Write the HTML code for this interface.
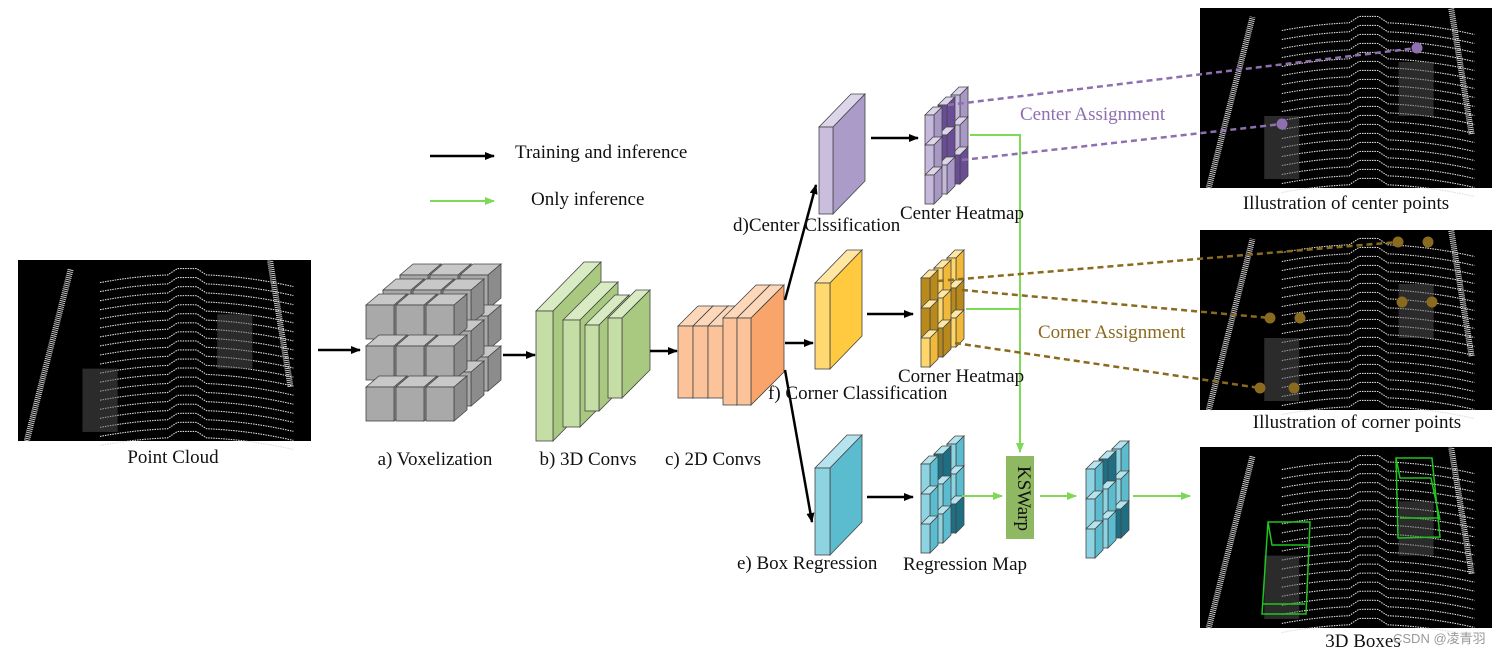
<!DOCTYPE html>
<html><head><meta charset="utf-8"><style>
body{margin:0;background:#fff;}
svg{display:block;}
text{font-family:"Liberation Serif",serif;font-size:19px;fill:#111;}
</style></head><body>
<svg id="s" width="1506" height="655" viewBox="0 0 1506 655" xmlns="http://www.w3.org/2000/svg">
<defs>
<marker id="ab" markerWidth="10" markerHeight="8" refX="9" refY="4" orient="auto" markerUnits="userSpaceOnUse"><path d="M0,0 L10,4 L0,8z" fill="#000"/></marker>
<marker id="ag" markerWidth="10" markerHeight="8" refX="9" refY="4" orient="auto" markerUnits="userSpaceOnUse"><path d="M0,0 L10,4 L0,8z" fill="#7ed957"/></marker>
</defs>
<g id="g"></g>
<text x="515" y="158">Training and inference</text>
<text x="531" y="205">Only inference</text>
<text x="173" y="463" text-anchor="middle">Point Cloud</text>
<text x="435" y="465" text-anchor="middle">a) Voxelization</text>
<text x="588" y="465" text-anchor="middle">b) 3D Convs</text>
<text x="713" y="465" text-anchor="middle">c) 2D Convs</text>
<text x="733" y="231">d)Center Clssification</text>
<text x="900" y="219">Center Heatmap</text>
<text x="768" y="399">f) Corner Classification</text>
<text x="898" y="382">Corner Heatmap</text>
<text x="737" y="569">e) Box Regression</text>
<text x="903" y="570">Regression Map</text>
<text x="1020" y="120" style="fill:#8e6fb0">Center Assignment</text>
<text x="1038" y="338" style="fill:#8a6a1e">Corner Assignment</text>
<text x="1346" y="209" text-anchor="middle">Illustration of center points</text>
<text x="1357" y="428" text-anchor="middle">Illustration of corner points</text>
<text x="1363" y="647" text-anchor="middle">3D Boxes</text>
<text x="1393" y="643" style="font-family:'Liberation Sans','Noto Sans CJK SC',sans-serif;font-size:13px;fill:#999">CSDN @凌青羽</text>
</svg>
<script>
var g=document.getElementById('g'),NS='http://www.w3.org/2000/svg';
function el(t,a){var e=document.createElementNS(NS,t);for(var k in a)e.setAttribute(k,a[k]);g.appendChild(e);return e;}
function prism(x,y,w,h,dx,dy,cf,ct,cr){
 el('polygon',{points:[x,y,x+dx,y+dy,x+w+dx,y+dy,x+w,y].join(' '),fill:ct,stroke:'#444','stroke-width':0.8});
 el('polygon',{points:[x+w,y,x+w+dx,y+dy,x+w+dx,y+h+dy,x+w,y+h].join(' '),fill:cr,stroke:'#444','stroke-width':0.8});
 el('rect',{x:x,y:y,width:w,height:h,fill:cf,stroke:'#444','stroke-width':0.8});
}
function line(x1,y1,x2,y2,c,m,w,d){var a={x1:x1,y1:y1,x2:x2,y2:y2,stroke:c,'stroke-width':w||2.5};if(m)a['marker-end']='url(#'+m+')';if(d)a['stroke-dasharray']=d;el('line',a);}
function cloud(x,y,w,h){
 el('rect',{x:x,y:y,width:w,height:h,fill:'#000'});
 for(var i=0;i<19;i++){var yy=y+h*(0.08+i*0.05),pts=[];
  for(var j=0;j<=20;j++){var t=j/20,xx=x+w*(0.28+0.66*t);var c=Math.abs(t-0.45);pts.push(xx.toFixed(1)+','+(yy+c*c*40-(c<0.08?6:0)).toFixed(1));}
  el('polyline',{points:pts.join(' '),fill:'none',stroke:'#ddd','stroke-width':1.1,'stroke-dasharray':'1.5 1'});}
 el('path',{d:'M'+(x+w*0.03)+','+(y+h)+' L'+(x+w*0.18)+','+(y+h*0.05),stroke:'#ccc','stroke-width':6,fill:'none','stroke-dasharray':'1 1'});
 el('path',{d:'M'+(x+w*0.93)+','+(y+h*0.7)+' L'+(x+w*0.86)+','+(y),stroke:'#ccc','stroke-width':6,fill:'none','stroke-dasharray':'1 1'});
 el('rect',{x:x+w*0.22,y:y+h*0.6,width:w*0.12,height:h*0.35,fill:'#555',opacity:0.5});
 el('rect',{x:x+w*0.68,y:y+h*0.3,width:w*0.12,height:h*0.3,fill:'#555',opacity:0.5});
}
cloud(18,260,293,181);cloud(1200,8,292,180);cloud(1200,230,292,180);cloud(1200,447,292,181);
el('path',{d:'M1262,614 L1268,522 L1310,522 L1306,614Z M1262,604 L1305,604 M1268,522 L1272,545 L1310,545',stroke:'#1fc41f','stroke-width':1.5,fill:'none'});
el('path',{d:'M1398,538 L1396,458 L1432,458 L1440,537Z M1396,458 L1400,478 L1431,478 L1440,520 M1400,518 L1440,518',stroke:'#1fc41f','stroke-width':1.5,fill:'none'});
for(var l=2;l>=0;l--)for(var r=0;r<3;r++)for(var c=0;c<3;c++){
 var x=366+c*30+l*17,y=305+r*41-l*15;prism(x,y,28,34,13,-11,'#a9a9a9','#c8c8c8','#8c8c8c');}
[[536,311,17,130,48,-49],[563,320,17,107,38,-38],[585,325,14,86,30,-30],[608,318,14,80,28,-28]].forEach(function(p){prism(p[0],p[1],p[2],p[3],p[4],p[5],'#c5dea5','#d9ebc2','#a8c97f');});
[[678,326,15,72],[693,326,15,72],[708,326,15,72]].forEach(function(p){prism(p[0],p[1],p[2],p[3],20,-20,'#fcc39a','#fdd7b9','#f9a86c');});
[[723,318,14,87],[737,318,14,87]].forEach(function(p){prism(p[0],p[1],p[2],p[3],33,-33,'#fcc39a','#fdd7b9','#f9a46a');});
prism(819,127,14,87,32,-33,'#c9bedc','#ddd5ea','#ab9bc8');
prism(815,283,15,86,32,-33,'#ffd872','#ffe7a3','#ffc940');
prism(815,468,15,87,32,-33,'#8ed3e2','#b5e4ee','#5bbccf');
function hm(x0,y0,cf,ct,cr,dark,ds){
 for(var c=2;c>=0;c--)for(var r=0;r<3;r++){var x=x0+c*13,y=y0+r*30-c*10;var d=dark.indexOf(r*3+c)>=0;
  prism(x,y,9,29,8,-8,d?ds:cf,ct,d?ds:cr);}
}
hm(925,115,'#c5b8dc','#ddd5ea','#a898c6',[4,8,1],'#6a4e95');
hm(921,278,'#ffd66a','#ffe7a3','#f0b93a',[0,3,5,7],'#b88a1c');
hm(921,464,'#8ed3e2','#b5e4ee','#5bbccf',[1,8],'#1e6f84');
hm(1086,469,'#8ed3e2','#b5e4ee','#5bbccf',[1,8],'#1e6f84');
el('rect',{x:1006,y:456,width:28,height:83,fill:'#8fb862'});
var t=el('text',{x:1014,y:460,transform:'rotate(90 1014 460) translate(6,-4)'});t.textContent='KSWarp';
line(430,156,494,156,'#000','ab',2.5);
line(318,350,360,350,'#000','ab');line(503,355,535,355,'#000','ab');line(650,351,677,351,'#000','ab');
line(785,300,816,185,'#000','ab');line(785,343,813,343,'#000','ab');line(785,370,812,522,'#000','ab');
line(871,138,918,138,'#000','ab');line(867,314,913,314,'#000','ab');line(867,497,913,497,'#000','ab');
line(430,201,494,201,'#7ed957','ag',2);
el('polyline',{points:'970,135 1020,135 1020,452',fill:'none',stroke:'#7ed957','stroke-width':2,'marker-end':'url(#ag)'});
line(966,309,1020,309,'#7ed957',null,2);
line(962,496,1002,496,'#7ed957','ag',2);line(1040,496,1076,496,'#7ed957','ag',2);line(1133,496,1190,496,'#7ed957','ag',2);
var P='#8e6fb0',B='#8a6a1e';
line(948,105,1417,48,P,null,2.5,'6 4');line(962,160,1282,124,P,null,2.5,'6 4');
line(938,281,1398,242,B,null,2.5,'6 4');line(962,290,1270,318,B,null,2.5,'6 4');line(955,343,1260,388,B,null,2.5,'6 4');
[[1417,48,P],[1282,124,P],[1398,242,B],[1428,242,B],[1270,318,B],[1300,318,B],[1260,388,B],[1294,388,B],[1402,302,B],[1432,302,B]].forEach(function(d){el('circle',{cx:d[0],cy:d[1],r:5.5,fill:d[2]});});
</script>
</body></html>
